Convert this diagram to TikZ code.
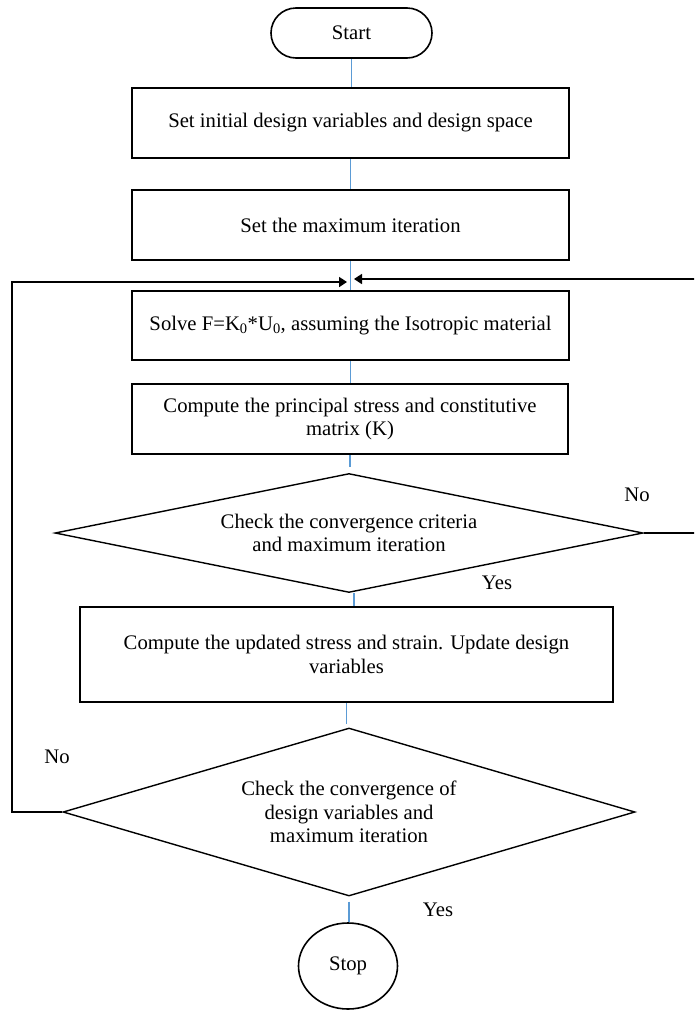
\documentclass[tikz,border=0pt]{standalone}
\usepackage{fontspec}
\setmainfont{Liberation Serif}
\usetikzlibrary{arrows.meta,shapes.geometric}
\definecolor{lnblue}{RGB}{91,155,213}
\tikzset{
  >={Triangle[length=8pt,width=10pt]},
  every node/.style={font=\fontsize{20.7}{23.5}\selectfont},
  proc/.style={rectangle,draw,line width=2pt,minimum width=437pt,minimum height=70pt,align=center,inner sep=0pt},
  term/.style={draw,line width=1.6pt,inner sep=0pt},
  dec/.style={diamond,draw,line width=1.4pt,aspect=4.9,inner sep=0pt,align=center},
  flow/.style={draw=lnblue,line width=1.4pt},
  back/.style={draw,line width=1.7pt},
}
\begin{document}
\begin{tikzpicture}[x=1pt,y=-1pt]
\useasboundingbox (0,0) rectangle (694,1010);
\clip (0,0) rectangle (694,1010);
\node[term,rounded corners=25pt,minimum width=161pt,minimum height=50pt] (start) at (351.5,33){Start};
\node[proc] (init) at (350.5,123){Set initial design variables and design space};
\node[proc] (maxit) at (350.5,225){Set the maximum iteration};
\node[proc,minimum height=69pt] (solve) at (350.5,325.5){Solve F=K\textsubscript{0}*U\textsubscript{0}, assuming the Isotropic material};
\node[proc,minimum width=436pt] (princ) at (350,419){Compute the principal stress and constitutive\\matrix (K)};
\node[dec,minimum width=588pt,minimum height=119pt] (conv1) at (349,533){Check the convergence criteria\\and maximum iteration};
\node[proc,minimum width=533pt,minimum height=95pt] (upd) at (346.5,654.5){Compute the updated stress and strain. Update design\\variables};
\node[dec,minimum width=572pt,minimum height=168pt] (conv2) at (349,812){Check the convergence of\\design variables and\\maximum iteration};
\node[term,ellipse,minimum width=99pt,minimum height=86pt] (stop) at (348,966){Stop};
% labels
\node (no1) at (637,495){No}; \node (yes1) at (497,583){Yes};
\node (no2) at (57,757){No}; \node (yes2) at (438,910){Yes};
% main flow
\draw[flow] (start.south)--(start.south|-init.north); \draw[flow] (init.south)--(init.south|-maxit.north);
\draw[flow] (maxit.south)--(maxit.south|-solve.north); \draw[flow] (solve.south)--(solve.south|-princ.north);
\draw[flow,shorten >=6pt] (princ.south)--(princ.south|-conv1.north);
\draw[flow] ([xshift=5pt]conv1.south)--([xshift=5pt]conv1.south|-upd.north);
\draw[flow,shorten >=3pt] (upd.south)--(upd.south|-conv2.north);
\draw[flow,shorten <=5pt] (conv2.south)--(conv2.south|-stop.north);
% loops back
\coordinate (inL) at (347,282); \coordinate (inR) at (354,279);
\draw[back,->] (conv2.west)--++(-50,0)|-(inL);
\draw[back,->] (conv1.east)--++(80,0)|-(inR);
\end{tikzpicture}
\end{document}
